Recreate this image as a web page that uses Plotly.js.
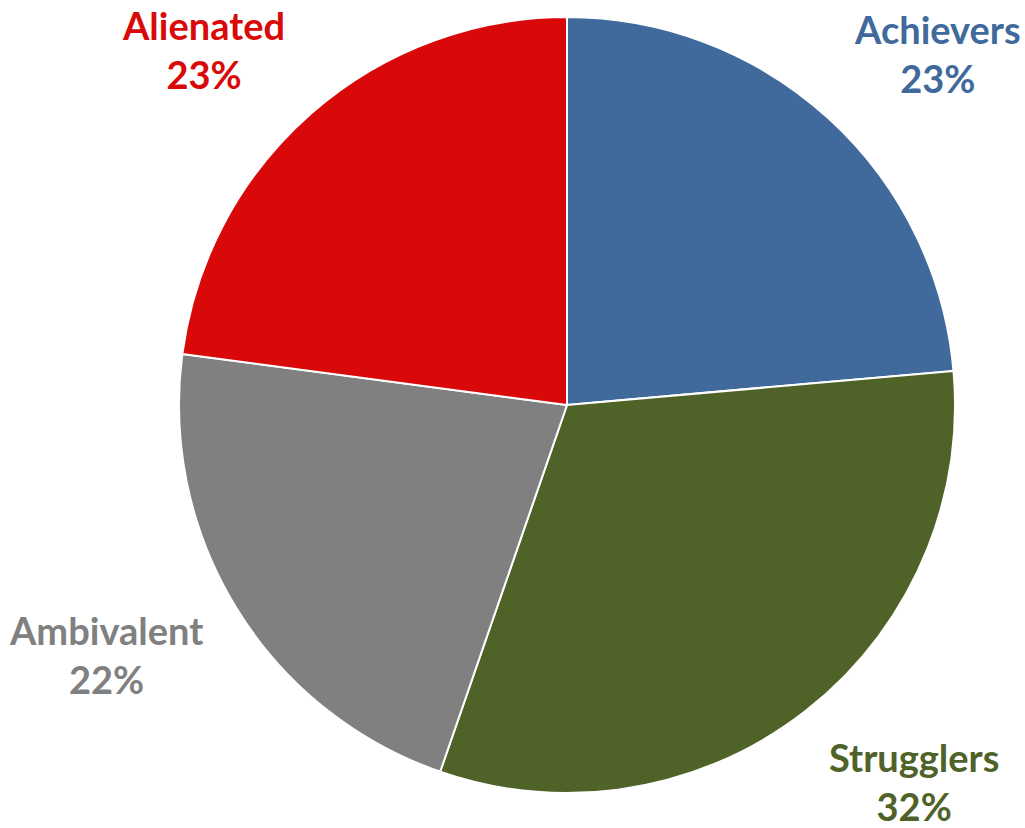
<!DOCTYPE html>
<html>
<head>
<meta charset="utf-8">
<script src="https://cdn.plot.ly/plotly-3.0.1.min.js"></script>
<style>html,body{margin:0;padding:0;background:#fff;}#chart{width:1025px;height:828px;}</style>
</head>
<body>
<div id="chart"></div>
<script>
const categories = ["Achievers", "Strugglers", "Ambivalent", "Alienated"];
const values = [23.6, 31.7, 21.8, 22.9];
const pctLabels = ["23%", "32%", "22%", "23%"];
const colors = ["#40699C", "#4F6228", "#808080", "#D90909"];
const labelX = [937, 914, 106, 203];
const labelY = [54, 781, 654, 49];

const W = 1025, H = 828;
const trace = {
  type: "pie",
  labels: categories,
  values: values,
  sort: false,
  direction: "clockwise",
  rotation: 0,
  textinfo: "none",
  hoverinfo: "label+percent",
  marker: { colors: colors, line: { color: "#ffffff", width: 2 } },
  domain: { x: [(567 - 388) / W, (567 + 388) / W], y: [(H - 793) / H, (H - 17) / H] },
  showlegend: false
};
const annotations = categories.map((c, i) => ({
  xref: "paper", yref: "paper",
  x: labelX[i] / W, y: 1 - labelY[i] / H,
  xanchor: "center", yanchor: "middle",
  showarrow: false,
  text: c + "<br>" + pctLabels[i],
  font: { family: "Lato, 'Open Sans', sans-serif", size: 38, color: colors[i], weight: "bold" }
}));
Plotly.newPlot("chart", [trace], {
  width: W, height: H,
  margin: { l: 0, r: 0, t: 0, b: 0 },
  paper_bgcolor: "#ffffff",
  annotations: annotations,
  showlegend: false
}, { displayModeBar: false, staticPlot: true });
</script>
</body>
</html>
